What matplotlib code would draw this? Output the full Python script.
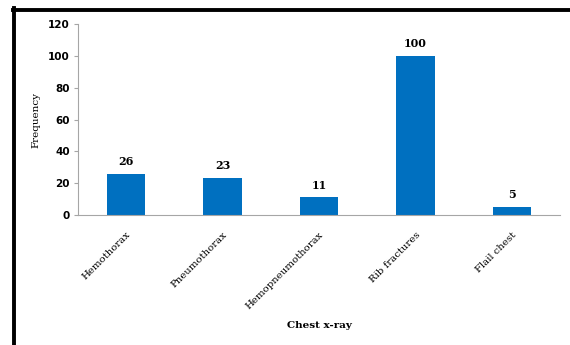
import matplotlib
matplotlib.use("Agg")
import matplotlib.pyplot as plt
from matplotlib.lines import Line2D

# chest x-ray findings
categories = ["Hemothorax", "Pneumothorax", "Hemopneumothorax", "Rib fractures", "Flail chest"]
frequency = [26, 23, 11, 100, 5]
yticks = [0, 20, 40, 60, 80, 100, 120]

bar_color = "#0070C0"
axis_color = "#A6A6A6"
serif = "DejaVu Serif"

fig = plt.figure(figsize=(5.7, 3.45), dpi=100)
ax = fig.add_axes([78 / 570, 1 - 215 / 345, 482 / 570, 191 / 345])

x = list(range(len(categories)))
bars = ax.bar(x, frequency, width=0.4, color=bar_color, zorder=2)

for xi, v in zip(x, frequency):
    ax.annotate(str(v), (xi, v), xytext=(0, 5), textcoords="offset points",
                ha="center", va="bottom", fontsize=8, fontweight="bold",
                family=serif)

ax.set_xlim(-0.5, len(categories) - 0.5)
ax.set_ylim(0, 120)
ax.set_yticks(yticks)
ax.set_yticklabels([str(t) for t in yticks], fontsize=7.5, fontweight="bold",
                   family="DejaVu Sans")
ax.set_xticks(x)
ax.set_xticklabels(categories, rotation=45, ha="right", rotation_mode="anchor",
                   fontsize=7.3, family=serif)
ax.tick_params(axis="x", length=0, pad=11)
ax.tick_params(axis="y", length=3, color=axis_color, pad=3)

for side in ["top", "right"]:
    ax.spines[side].set_visible(False)
ax.spines["left"].set_color(axis_color)
ax.spines["bottom"].set_color(axis_color)

ax.set_xlabel("Chest x-ray", fontsize=7.5, fontweight="bold",
              family=serif, labelpad=0)
ax.xaxis.set_label_coords(0.5, -106 / 191)
ax.set_ylabel("Frequency", fontsize=7.5, family=serif)
ax.yaxis.set_label_coords(-38 / 482, 0.5)

# thick frame lines on top and left of the picture
fig.add_artist(Line2D([13 / 570, 1], [1 - 9.5 / 345, 1 - 9.5 / 345],
                      transform=fig.transFigure, color="black", linewidth=2.8))
fig.add_artist(Line2D([13.5 / 570, 13.5 / 570], [0, 1 - 8 / 345],
                      transform=fig.transFigure, color="black", linewidth=2.8))

fig.savefig("out.png", dpi=100)
